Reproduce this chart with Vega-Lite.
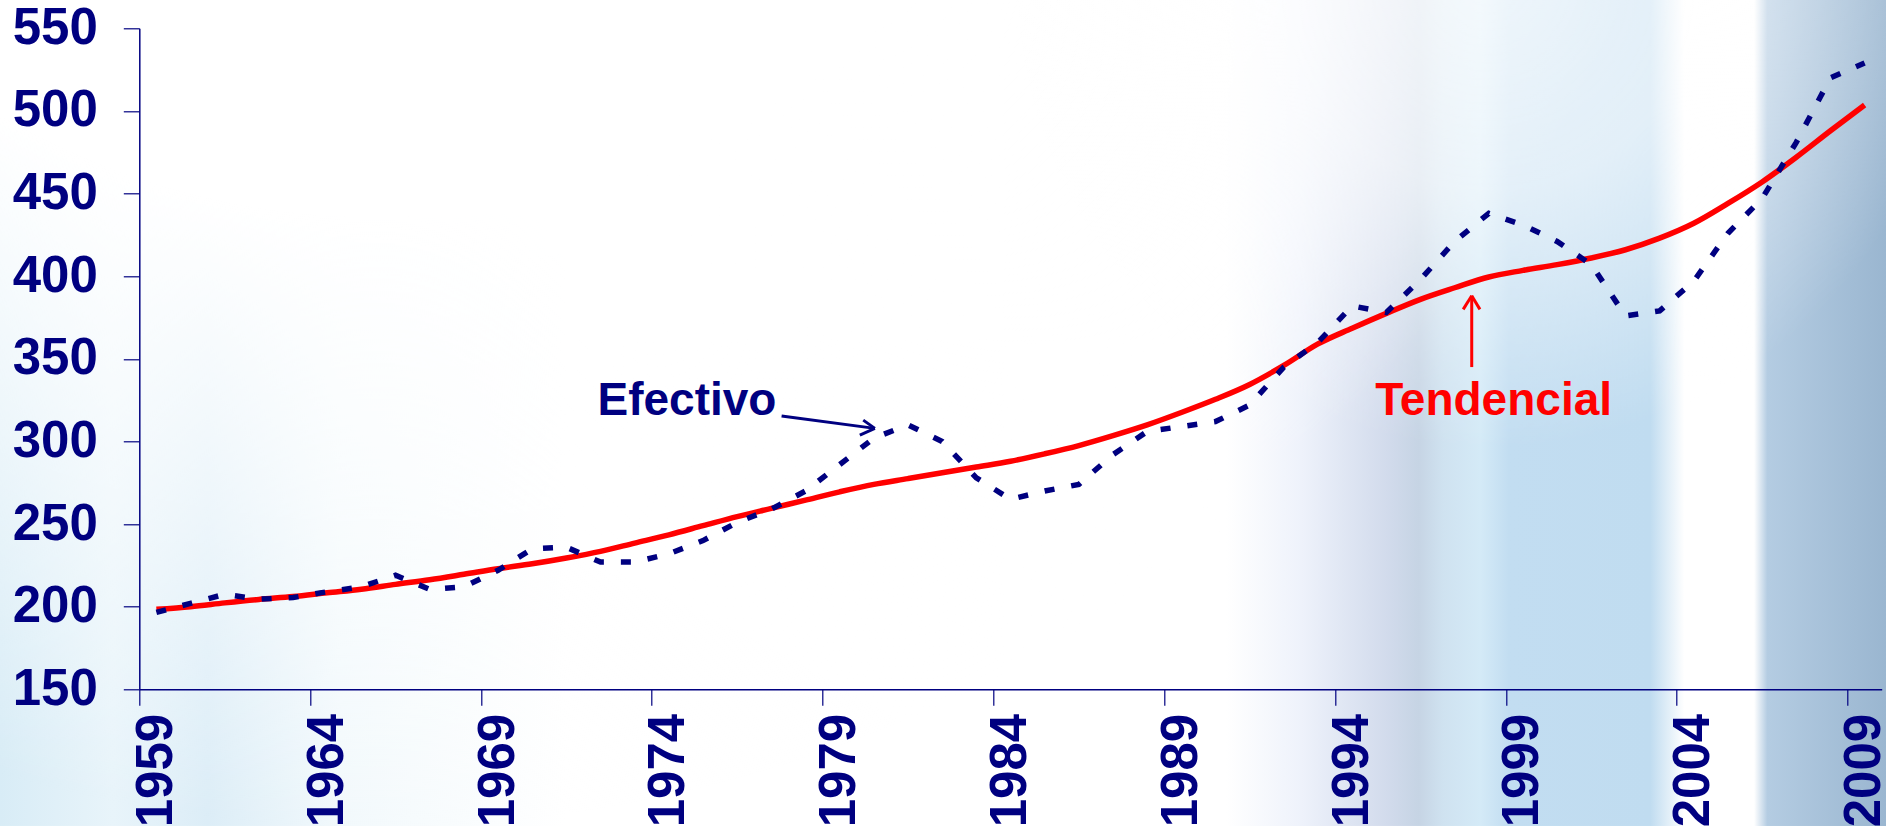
{
  "$schema": "https://vega.github.io/schema/vega-lite/v6.json",
  "width": 1742.4,
  "height": 661,
  "autosize": {"type": "none"},
  "padding": {"left": 139.3, "top": 28.3, "right": 4.3, "bottom": 136.7},
  "background": "white",
  "config": {"view": {"stroke": null}},
  "datasets": {
    "one": [{}],
    "series": [
      {"year": 1959, "efectivo": 196.5, "tendencial": 198.4},
      {"year": 1960, "efectivo": 202, "tendencial": 200.0},
      {"year": 1961, "efectivo": 207.5, "tendencial": 202.3},
      {"year": 1962, "efectivo": 204.5, "tendencial": 204.4},
      {"year": 1963, "efectivo": 205.5, "tendencial": 206.1},
      {"year": 1964, "efectivo": 209, "tendencial": 208.4},
      {"year": 1965, "efectivo": 212, "tendencial": 210.6},
      {"year": 1966, "efectivo": 219, "tendencial": 213.5},
      {"year": 1967, "efectivo": 210.5, "tendencial": 216.3},
      {"year": 1968, "efectivo": 212, "tendencial": 219.6},
      {"year": 1969, "efectivo": 222, "tendencial": 223.0},
      {"year": 1970, "efectivo": 235, "tendencial": 226.0},
      {"year": 1971, "efectivo": 236, "tendencial": 229.5},
      {"year": 1972, "efectivo": 227, "tendencial": 233.5},
      {"year": 1973, "efectivo": 227, "tendencial": 238.5},
      {"year": 1974, "efectivo": 232, "tendencial": 243.5},
      {"year": 1975, "efectivo": 240, "tendencial": 249},
      {"year": 1976, "efectivo": 251, "tendencial": 254.5},
      {"year": 1977, "efectivo": 259, "tendencial": 259.5},
      {"year": 1978, "efectivo": 270, "tendencial": 264.5},
      {"year": 1979, "efectivo": 286, "tendencial": 269.5},
      {"year": 1980, "efectivo": 302, "tendencial": 274},
      {"year": 1981, "efectivo": 310, "tendencial": 277.5},
      {"year": 1982, "efectivo": 300, "tendencial": 281},
      {"year": 1983, "efectivo": 278, "tendencial": 284.5},
      {"year": 1984, "efectivo": 265, "tendencial": 288},
      {"year": 1985, "efectivo": 270, "tendencial": 292.5},
      {"year": 1986, "efectivo": 274, "tendencial": 297.5},
      {"year": 1987, "efectivo": 292, "tendencial": 303.5},
      {"year": 1988, "efectivo": 306, "tendencial": 310},
      {"year": 1989, "efectivo": 309, "tendencial": 317.5},
      {"year": 1990, "efectivo": 312, "tendencial": 325.5},
      {"year": 1991, "efectivo": 322, "tendencial": 334.5},
      {"year": 1992, "efectivo": 345, "tendencial": 346},
      {"year": 1993, "efectivo": 360, "tendencial": 359},
      {"year": 1994, "efectivo": 382, "tendencial": 368.5},
      {"year": 1995, "efectivo": 378, "tendencial": 377.5},
      {"year": 1996, "efectivo": 398, "tendencial": 386},
      {"year": 1997, "efectivo": 421, "tendencial": 393},
      {"year": 1998, "efectivo": 438, "tendencial": 399.5},
      {"year": 1999, "efectivo": 431, "tendencial": 403.5},
      {"year": 2000, "efectivo": 421, "tendencial": 407},
      {"year": 2001, "efectivo": 407, "tendencial": 411},
      {"year": 2002, "efectivo": 376, "tendencial": 416},
      {"year": 2003, "efectivo": 379, "tendencial": 423},
      {"year": 2004, "efectivo": 397, "tendencial": 432},
      {"year": 2005, "efectivo": 426, "tendencial": 444},
      {"year": 2006, "efectivo": 447, "tendencial": 457},
      {"year": 2007, "efectivo": 481, "tendencial": 472},
      {"year": 2008, "efectivo": 520, "tendencial": 488},
      {"year": 2009, "efectivo": 529, "tendencial": 503.6}
    ]
  },
  "layer": [
    {
      "data": {"name": "one"},
      "mark": {"type": "rect", "fill": {"gradient": "linear", "x1": 0, "y1": 0, "x2": 1, "y2": 0, "stops": [
        {"offset": 0, "color": "#d8ecf6"},
        {"offset": 0.06, "color": "#e8f4fa"},
        {"offset": 0.11, "color": "#dcedf7"},
        {"offset": 0.18, "color": "#f2f9fc"},
        {"offset": 0.3, "color": "#ffffff"},
        {"offset": 0.65, "color": "#ffffff"},
        {"offset": 0.69, "color": "#eef2fb"},
        {"offset": 0.735, "color": "#d2dbec"},
        {"offset": 0.752, "color": "#c6d4e4"},
        {"offset": 0.765, "color": "#cfe2f0"},
        {"offset": 0.785, "color": "#d4eaf7"},
        {"offset": 0.8, "color": "#c2ddf1"},
        {"offset": 0.875, "color": "#c0dcf0"},
        {"offset": 0.893, "color": "#ffffff"},
        {"offset": 0.93, "color": "#ffffff"},
        {"offset": 0.937, "color": "#b4cce2"},
        {"offset": 1, "color": "#9ab6d0"}
      ]}},
      "encoding": {
        "x": {"datum": 1954.42, "type": "quantitative", "scale": {"domain": [1958.5, 2009.5], "nice": false, "zero": false}, "title": null},
        "x2": {"datum": 2009.63},
        "y": {"datum": 567.2, "type": "quantitative", "scale": {"domain": [150, 550], "nice": false, "zero": false}, "title": null},
        "y2": {"datum": 67.3}
      }
    },
    {
      "data": {"name": "one"},
      "mark": {"type": "rect", "fill": {"gradient": "radial", "x1": 0.2, "y1": 0, "r1": 0, "x2": 0.2, "y2": 0, "r2": 0.72, "stops": [
        {"offset": 0, "color": "rgba(255,255,255,1)"},
        {"offset": 0.55, "color": "rgba(255,255,255,1)"},
        {"offset": 1, "color": "rgba(255,255,255,0)"}
      ]}},
      "encoding": {
        "x": {"datum": 1954.42, "type": "quantitative", "scale": {"domain": [1958.5, 2009.5], "nice": false, "zero": false}, "title": null},
        "x2": {"datum": 2009.63},
        "y": {"datum": 567.2, "type": "quantitative", "scale": {"domain": [150, 550], "nice": false, "zero": false}, "title": null},
        "y2": {"datum": 67.3}
      }
    },
    {
      "data": {"name": "one"},
      "mark": {"type": "rect", "fill": {"gradient": "radial", "x1": 0.542, "y1": 0, "r1": 0, "x2": 0.542, "y2": 0, "r2": 0.542, "stops": [
        {"offset": 0, "color": "rgba(255,255,255,0.65)"},
        {"offset": 0.45, "color": "rgba(255,255,255,0.55)"},
        {"offset": 1, "color": "rgba(255,255,255,0)"}
      ]}},
      "encoding": {
        "x": {"datum": 1984.19, "type": "quantitative", "scale": {"domain": [1958.5, 2009.5], "nice": false, "zero": false}, "title": null},
        "x2": {"datum": 2009.63},
        "y": {"datum": 567.2, "type": "quantitative", "scale": {"domain": [150, 550], "nice": false, "zero": false}, "title": null},
        "y2": {"datum": 67.3}
      }
    },
    {
      "data": {"name": "series"},
      "mark": {"type": "line", "color": "#ff0000", "strokeWidth": 5.5, "interpolate": "monotone"},
      "encoding": {
        "x": {"field": "year", "type": "quantitative", "scale": {"domain": [1958.5, 2009.5], "nice": false, "zero": false},
          "axis": {"values": [1958.5, 1963.5, 1968.5, 1973.5, 1978.5, 1983.5, 1988.5, 1993.5, 1998.5, 2003.5, 2008.5],
            "labelExpr": "format(datum.value + 0.5, 'd')", "labelOffset": 17.08, "labelAngle": 270,
            "labelFont": "Liberation Sans", "labelFontSize": 51, "labelFontWeight": "bold", "labelColor": "#000080",
            "labelPadding": 8, "labelFlush": false, "labelOverlap": false, "labelBound": false,
            "tickSize": 16, "tickColor": "#000080", "tickWidth": 1.2, "domainColor": "#000080", "domainWidth": 1.5,
            "grid": false, "title": null, "zindex": 1}},
        "y": {"field": "tendencial", "type": "quantitative", "scale": {"domain": [150, 550], "nice": false, "zero": false},
          "axis": {"values": [150, 200, 250, 300, 350, 400, 450, 500, 550],
            "labelFont": "Liberation Sans", "labelFontSize": 51, "labelFontWeight": "bold", "labelColor": "#000080",
            "labelPadding": 26, "labelOverlap": false, "labelFlush": false, "labelBound": false,
            "tickSize": 16, "tickColor": "#000080", "tickWidth": 1.2, "domainColor": "#000080", "domainWidth": 1.5,
            "grid": false, "title": null, "zindex": 1}}
      }
    },
    {
      "data": {"name": "series"},
      "mark": {"type": "line", "color": "#000080", "strokeWidth": 5.5, "strokeDash": [10, 17], "strokeCap": "butt"},
      "encoding": {
        "x": {"field": "year", "type": "quantitative", "scale": {"domain": [1958.5, 2009.5], "nice": false, "zero": false}, "title": null},
        "y": {"field": "efectivo", "type": "quantitative", "scale": {"domain": [150, 550], "nice": false, "zero": false}, "title": null}
      }
    },
    {
      "data": {"name": "one"},
      "mark": {"type": "text", "text": "Efectivo", "font": "Liberation Sans", "fontSize": 46, "fontWeight": "bold", "color": "#000080", "align": "center", "baseline": "alphabetic"},
      "encoding": {
        "x": {"datum": 1974.53, "type": "quantitative", "scale": {"domain": [1958.5, 2009.5], "nice": false, "zero": false}, "title": null},
        "y": {"datum": 316.0, "type": "quantitative", "scale": {"domain": [150, 550], "nice": false, "zero": false}, "title": null}
      }
    },
    {
      "data": {"name": "one"},
      "mark": {"type": "text", "text": "Tendencial", "font": "Liberation Sans", "fontSize": 46, "fontWeight": "bold", "color": "#ff0000", "align": "center", "baseline": "alphabetic"},
      "encoding": {
        "x": {"datum": 1998.14, "type": "quantitative", "scale": {"domain": [1958.5, 2009.5], "nice": false, "zero": false}, "title": null},
        "y": {"datum": 316.0, "type": "quantitative", "scale": {"domain": [150, 550], "nice": false, "zero": false}, "title": null}
      }
    },
    {"data": {"name": "one"}, "mark": {"type": "rule", "color": "#000080", "strokeWidth": 3},
     "encoding": {"x": {"datum": 1977.30, "type": "quantitative", "scale": {"domain": [1958.5, 2009.5], "nice": false, "zero": false}, "title": null},
                  "y": {"datum": 315.4, "type": "quantitative", "scale": {"domain": [150, 550], "nice": false, "zero": false}, "title": null},
                  "x2": {"datum": 1980.03}, "y2": {"datum": 307.9}}},
    {"data": {"name": "one"}, "mark": {"type": "rule", "color": "#000080", "strokeWidth": 3},
     "encoding": {"x": {"datum": 1979.69, "type": "quantitative", "scale": {"domain": [1958.5, 2009.5], "nice": false, "zero": false}, "title": null},
                  "y": {"datum": 312.9, "type": "quantitative", "scale": {"domain": [150, 550], "nice": false, "zero": false}, "title": null},
                  "x2": {"datum": 1980.03}, "y2": {"datum": 307.9}}},
    {"data": {"name": "one"}, "mark": {"type": "rule", "color": "#000080", "strokeWidth": 3},
     "encoding": {"x": {"datum": 1979.59, "type": "quantitative", "scale": {"domain": [1958.5, 2009.5], "nice": false, "zero": false}, "title": null},
                  "y": {"datum": 303.8, "type": "quantitative", "scale": {"domain": [150, 550], "nice": false, "zero": false}, "title": null},
                  "x2": {"datum": 1980.03}, "y2": {"datum": 307.9}}},
    {"data": {"name": "one"}, "mark": {"type": "rule", "color": "#ff0000", "strokeWidth": 3},
     "encoding": {"x": {"datum": 1997.50, "type": "quantitative", "scale": {"domain": [1958.5, 2009.5], "nice": false, "zero": false}, "title": null},
                  "y": {"datum": 345.0, "type": "quantitative", "scale": {"domain": [150, 550], "nice": false, "zero": false}, "title": null},
                  "x2": {"datum": 1997.50}, "y2": {"datum": 388.2}}},
    {"data": {"name": "one"}, "mark": {"type": "rule", "color": "#ff0000", "strokeWidth": 3},
     "encoding": {"x": {"datum": 1997.25, "type": "quantitative", "scale": {"domain": [1958.5, 2009.5], "nice": false, "zero": false}, "title": null},
                  "y": {"datum": 379.9, "type": "quantitative", "scale": {"domain": [150, 550], "nice": false, "zero": false}, "title": null},
                  "x2": {"datum": 1997.50}, "y2": {"datum": 388.2}}},
    {"data": {"name": "one"}, "mark": {"type": "rule", "color": "#ff0000", "strokeWidth": 3},
     "encoding": {"x": {"datum": 1997.74, "type": "quantitative", "scale": {"domain": [1958.5, 2009.5], "nice": false, "zero": false}, "title": null},
                  "y": {"datum": 379.9, "type": "quantitative", "scale": {"domain": [150, 550], "nice": false, "zero": false}, "title": null},
                  "x2": {"datum": 1997.50}, "y2": {"datum": 388.2}}}
  ]
}
